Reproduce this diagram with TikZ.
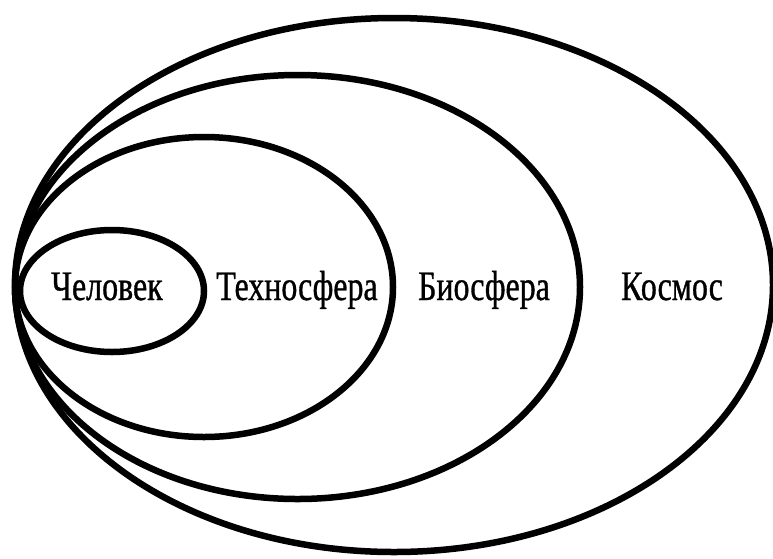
\documentclass[tikz,border=0pt]{standalone}
\usepackage{fontspec}
\newfontfamily\labfont[FakeStretch=0.76,FakeBold=0.8]{Liberation Serif}
\tikzset{
  ring/.style={draw=black, line width=6.5pt},
  lab/.style={anchor=base, inner sep=0pt, font=\labfont\fontsize{42}{42}\selectfont}
}
\begin{document}
\begin{tikzpicture}[x=1pt,y=-1pt]
\useasboundingbox (0,0) rectangle (773,558);
\fill[white] (0,0) rectangle (773,558);
\clip (0,0) rectangle (773,558);
\draw[ring] (394,285) ellipse [x radius=379, y radius=267];
\draw[ring] (297.5,287) ellipse [x radius=282.5, y radius=212];
\draw[ring] (204,287) ellipse [x radius=189, y radius=150];
\draw[ring] (112,291) ellipse [x radius=92, y radius=61];
\node[lab] (chel) at (107,300) {Человек};
\node[lab] (tech) at (297,300) {Техносфера};
\node[lab] (bio) at (484,300) {Биосфера};
\node[lab] (kos) at (672,300) {Космос};
\end{tikzpicture}
\end{document}
